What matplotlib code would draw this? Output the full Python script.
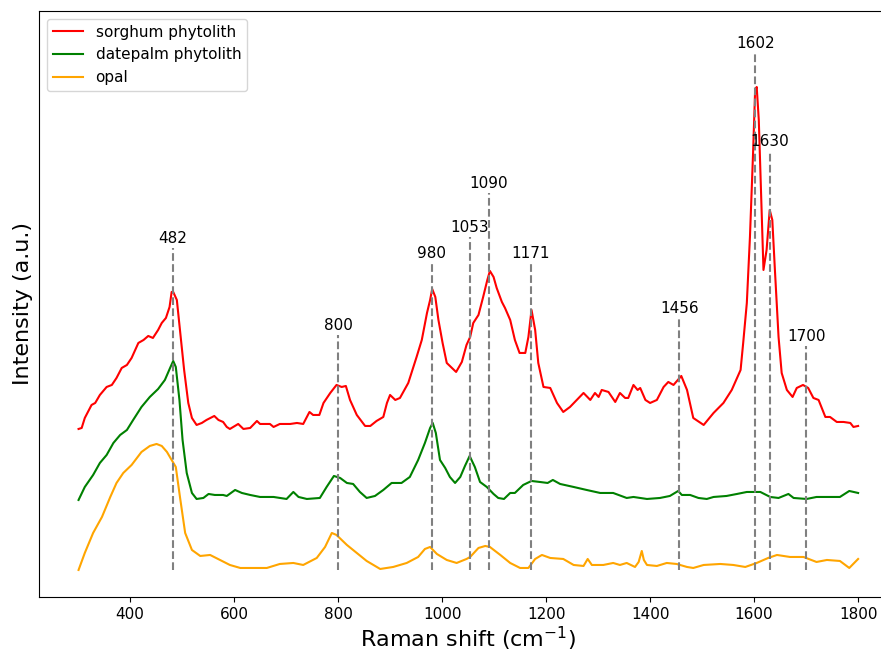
import numpy as np
import matplotlib.pyplot as plt

# Raman spectra (wavenumber in cm^-1, intensity in arbitrary units)
sorghum_x = [301, 307, 313, 326, 333, 342, 355, 365, 374, 384, 394, 403, 416, 426, 435, 444,
             454, 461, 469, 476, 480, 483, 490, 496, 504, 512, 519, 528, 538, 547, 562, 570,
             579, 586, 592, 608, 618, 631, 644, 650, 669, 676, 688, 708, 721, 733, 745, 752,
             764, 772, 785, 797, 807, 815, 823, 836, 852, 862, 874, 887, 894, 900, 910, 919,
             935, 951, 961, 971, 977, 981, 987, 993, 1001, 1009, 1017, 1027, 1038, 1047, 1054,
             1060, 1070, 1079, 1087, 1092, 1099, 1105, 1115, 1121, 1131, 1140, 1149, 1160, 1166,
             1172, 1179, 1185, 1195, 1208, 1221, 1233, 1246, 1259, 1272, 1285, 1294, 1301, 1307,
             1320, 1333, 1342, 1352, 1358, 1368, 1376, 1381, 1391, 1400, 1413, 1426, 1435, 1445,
             1460, 1471, 1483, 1503, 1522, 1541, 1557, 1574, 1579, 1586, 1592, 1598, 1602, 1605,
             1609, 1614, 1618, 1624, 1630, 1635, 1640, 1647, 1653, 1663, 1674, 1682, 1694, 1704,
             1714, 1724, 1737, 1746, 1759, 1772, 1785, 1791, 1800]
sorghum_y = [168, 169, 179, 192, 194, 202, 210, 212, 219, 229, 232, 239, 254, 257, 261, 259,
             267, 274, 279, 290, 305, 305, 297, 267, 227, 194, 179, 172, 174, 177, 181, 177,
             175, 170, 168, 173, 168, 169, 176, 173, 173, 170, 173, 173, 174, 173, 185, 182,
             182, 194, 204, 212, 210, 211, 197, 182, 171, 171, 176, 180, 194, 202, 197, 199,
             214, 240, 257, 284, 297, 308, 300, 277, 254, 234, 230, 225, 235, 252, 260,
             274, 282, 300, 317, 326, 320, 309, 295, 289, 277, 257, 244, 244, 260,
             287, 267, 234, 210, 209, 194, 185, 190, 197, 204, 197, 204, 200, 207,
             205, 195, 204, 199, 199, 212, 207, 209, 197, 194, 197, 210, 215, 212,
             221, 207, 179, 172, 184, 194, 207, 227, 254, 294, 360, 444, 507, 510,
             477, 394, 327, 347, 387, 377, 327, 260, 224, 207, 200, 209, 212, 209,
             199, 197, 180, 180, 175, 175, 174, 170, 171]

datepalm_x = [301, 313, 329, 342, 355, 368, 381, 394, 406, 422, 438, 454, 467, 477, 483, 488,
              495, 501, 509, 519, 528, 541, 551, 563, 579, 586, 602, 615, 631, 650, 676, 701,
              714, 724, 740, 765, 778, 792, 804, 817, 829, 842, 855, 871, 887, 903, 922, 938,
              954, 967, 977, 982, 988, 996, 1006, 1015, 1025, 1035, 1044, 1053, 1063, 1073,
              1086, 1099, 1108, 1119, 1131, 1140, 1156, 1172, 1188, 1203, 1213, 1227, 1253,
              1278, 1304, 1329, 1355, 1368, 1394, 1419, 1438, 1454, 1461, 1477, 1493, 1509,
              1522, 1547, 1567, 1586, 1612, 1631, 1647, 1666, 1676, 1701, 1720, 1740, 1765,
              1783, 1800]
datepalm_y = [97, 110, 122, 134, 142, 154, 162, 167, 177, 190, 200, 208, 217, 229, 236, 230,
              197, 157, 124, 104, 98, 99, 103, 102, 102, 101, 107, 104, 102, 100, 100, 98,
              105, 100, 98, 99, 110, 121, 119, 114, 113, 105, 99, 101, 107, 114, 114, 120,
              137, 154, 169, 174, 164, 137, 129, 120, 114, 120, 131, 141, 130, 115,
              110, 103, 99, 98, 104, 104, 112, 116, 115, 114, 117, 113, 110,
              107, 104, 104, 99, 100, 98, 99, 101, 106, 102, 102, 99, 98,
              100, 101, 103, 105, 105, 100, 99, 103, 99, 98, 100, 100, 100,
              106, 104]

opal_x = [301, 313, 329, 346, 362, 374, 387, 403, 422, 438, 451, 461, 471, 480, 488, 496,
          506, 519, 535, 554, 573, 592, 612, 637, 663, 688, 714, 733, 759, 775, 788, 797,
          817, 836, 855, 881, 906, 932, 954, 967, 977, 990, 1009, 1028, 1047, 1054, 1070,
          1083, 1092, 1112, 1131, 1150, 1166, 1179, 1192, 1208, 1233, 1253, 1272, 1280, 1288,
          1310, 1329, 1342, 1355, 1371, 1378, 1384, 1388, 1394, 1413, 1432, 1451, 1471, 1483,
          1503, 1535, 1560, 1583, 1605, 1627, 1644, 1669, 1695, 1720, 1740, 1765, 1783, 1800]
opal_y = [27, 44, 64, 80, 100, 114, 124, 132, 145, 151, 153, 151, 145, 137, 130, 100,
          64, 47, 41, 42, 37, 32, 29, 29, 29, 33, 34, 32, 39, 50, 64, 62,
          52, 44, 36, 28, 30, 34, 40, 48, 50, 43, 37, 34, 38, 40, 49,
          51, 50, 42, 34, 29, 29, 38, 42, 39, 38, 32, 31, 38, 32,
          32, 34, 32, 34, 30, 35, 46, 37, 32, 31, 34, 33, 30, 29,
          32, 33, 32, 30, 34, 39, 42, 40, 40, 35, 37, 36, 29, 38]

# assigned bands and the height where each marker line ends
peaks = [482, 800, 980, 1053, 1090, 1171, 1456, 1602, 1630, 1700]
peak_tops = [349, 262, 334, 360, 404, 334, 279, 544, 446, 251]
line_bottom = 27

fig = plt.figure(figsize=(8.81, 6.52), dpi=100)
ax = fig.add_axes([0.0443, 0.0844, 0.974, 0.8988])

ax.plot(sorghum_x, sorghum_y, color='red', linewidth=1.5, label='sorghum phytolith')
ax.plot(datepalm_x, datepalm_y, color='green', linewidth=1.5, label='datepalm phytolith')
ax.plot(opal_x, opal_y, color='orange', linewidth=1.5, label='opal')

# dashed marker lines with the band positions on top
for p, top in zip(peaks, peak_tops):
    ax.vlines(p, line_bottom, top, colors='gray', linestyles='--', linewidth=1.5)
    ax.text(p, top + 2, str(p), ha='center', va='bottom', fontsize=11)

ax.set_xlim(225, 1875)
ax.set_ylim(0, 586)
ax.set_xticks(np.arange(400, 1801, 200))
ax.set_yticks([])
ax.tick_params(axis='x', labelsize=11)
ax.set_xlabel('Raman shift (cm$^{-1}$)', fontsize=16, labelpad=2)
ax.set_ylabel('Intensity (a.u.)', fontsize=16)
ax.legend(loc='upper left', fontsize=11)

plt.savefig('out.png', dpi=100)
